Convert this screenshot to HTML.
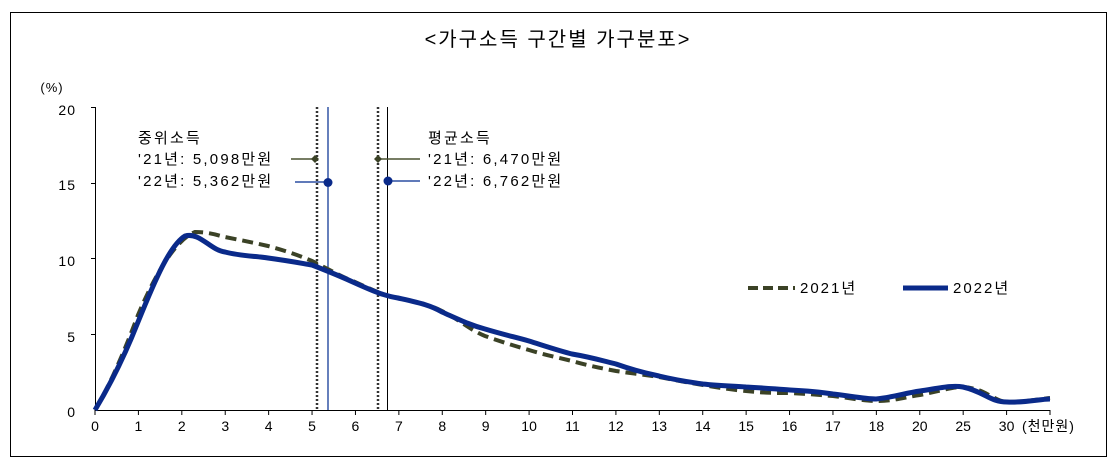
<!DOCTYPE html>
<html><head><meta charset="utf-8"><style>
html,body{margin:0;padding:0;background:#fff;}
svg text{font-family:"Liberation Sans","Noto Sans CJK KR",sans-serif;}
</style></head><body>
<svg width="1116" height="461" viewBox="0 0 1116 461" xmlns="http://www.w3.org/2000/svg">
<rect x="10.5" y="12.5" width="1096" height="444" fill="none" stroke="#000" stroke-width="1"/>
<text x="558" y="46" font-size="20" text-anchor="middle" fill="#000" letter-spacing="2">&lt;가구소득 구간별 가구분포&gt;</text>
<text x="52" y="92" font-size="13" text-anchor="middle" fill="#000" letter-spacing="1">(%)</text>
<g font-size="14" fill="#000" text-anchor="end" letter-spacing="1">
<text x="76" y="115">20</text><text x="76" y="190">15</text><text x="76" y="266">10</text><text x="76" y="342">5</text><text x="76" y="417">0</text>
</g>
<line x1="95.5" y1="107" x2="95.5" y2="410" stroke="#000"/>
<g stroke="#000"><line x1="91" y1="107.5" x2="95" y2="107.5"/><line x1="91" y1="183.5" x2="95" y2="183.5"/><line x1="91" y1="258.5" x2="95" y2="258.5"/><line x1="91" y1="334.5" x2="95" y2="334.5"/></g>
<line x1="95" y1="410.5" x2="1050" y2="410.5" stroke="#000"/>
<g stroke="#000" id="ticks"></g>
<g font-size="14" fill="#000" text-anchor="middle" id="xl"></g>
<text x="1022" y="431" font-size="14" fill="#000" letter-spacing="1">(천만원)</text>
<line x1="317" y1="107" x2="317" y2="410" stroke="#333" stroke-width="2.5" stroke-dasharray="2,2"/>
<line x1="328" y1="107" x2="328" y2="410" stroke="#002b8f" stroke-width="1.2"/>
<line x1="378" y1="107" x2="378" y2="410" stroke="#333" stroke-width="2.5" stroke-dasharray="2,2"/>
<line x1="387.5" y1="107" x2="387.5" y2="410" stroke="#000" stroke-width="1"/>
<g font-size="15" fill="#000" letter-spacing="2.2">
<text x="138" y="143">중위소득</text>
<text x="138" y="164">'21년: 5,098만원</text>
<text x="138" y="186">'22년: 5,362만원</text>
<text x="428" y="143">평균소득</text>
<text x="428" y="164">'21년: 6,470만원</text>
<text x="428" y="186">'22년: 6,762만원</text>
</g>
<line x1="291" y1="159" x2="315" y2="159" stroke="#4a5230" stroke-width="1.5"/>
<path d="M315 155 L319 159 L315 163 L311 159Z" fill="#3b4226"/>
<line x1="295" y1="182" x2="326" y2="182" stroke="#002b8f" stroke-width="1.2"/>
<circle cx="328" cy="182.5" r="4.5" fill="#0a2a8a"/>
<line x1="380" y1="159" x2="420" y2="159" stroke="#4a5230" stroke-width="1.5"/>
<path d="M378 155 L382 159 L378 163 L374 159Z" fill="#3b4226"/>
<line x1="390" y1="181" x2="420" y2="181" stroke="#002b8f" stroke-width="1.2"/>
<circle cx="388" cy="181" r="4.5" fill="#0a2a8a"/>
<line x1="748" y1="288" x2="795" y2="288" stroke="#3b4226" stroke-width="4" stroke-dasharray="10,5"/>
<text x="800" y="293" font-size="15" fill="#000" letter-spacing="2">2021년</text>
<line x1="903" y1="288" x2="948" y2="288" stroke="#0a2a8a" stroke-width="5"/>
<text x="953" y="293" font-size="15" fill="#000" letter-spacing="2">2022년</text>
<path d="M95,410 C110,385 125,350 138,315 C155,275 175,240 195,232 C210,232 220,236 225,237 C240,240 255,243 268,246 C290,252 300,256 312,261 C330,270 340,276 355,282 C375,291 385,296 398,298 C420,303 430,305 442,311 C460,320 470,330 485,336 C505,343 515,346 529,350 C545,355 560,358 572,361 C590,366 600,368 616,371 C630,373 645,375 659,377 C680,381 690,383 703,385 C720,388 735,390 746,391 C765,393 775,393 790,393 C810,394 820,395 833,396 C850,398 865,401 876,401 C895,401 905,397 920,395 C940,391 952,387 963,387 C985,388 995,402 1007,402 C1025,402 1040,399 1050,398" fill="none" stroke="#3b4226" stroke-width="4" stroke-dasharray="11,6"/>
<path d="M95,410 C110,385 125,355 138,322 C155,280 170,245 185,236 C200,232 210,250 225,252 C240,256 255,256 268,258 C290,261 300,263 312,265 C330,272 340,276 355,283 C375,292 385,296 398,298 C420,303 430,305 442,312 C460,320 470,325 485,329 C505,335 515,337 529,341 C545,346 560,351 572,354 C590,357 600,360 616,364 C630,369 645,373 659,376 C680,381 690,382 703,384 C720,386 735,386 746,387 C765,388 775,389 790,390 C810,391 820,392 833,394 C850,396 865,399 876,399 C895,397 905,393 920,391 C940,388 952,385 963,387 C985,392 990,402 1007,402 C1025,403 1040,399 1050,399" fill="none" stroke="#0a2a8a" stroke-width="5"/>
<script>
var labs=["0","1","2","3","4","5","6","7","8","9","10","11","12","13","14","15","16","17","18","20","25","30"];
var t=document.getElementById("ticks"),xl=document.getElementById("xl"),ns="http://www.w3.org/2000/svg";
for(var i=0;i<=22;i++){var x=95+i*955/22;var l=document.createElementNS(ns,"line");l.setAttribute("x1",x);l.setAttribute("x2",x);l.setAttribute("y1",410);l.setAttribute("y2",415);t.appendChild(l);
if(i<22){var s=document.createElementNS(ns,"text");s.setAttribute("x",x);s.setAttribute("y",431);s.textContent=labs[i];xl.appendChild(s);}}
</script>
</svg>
</body></html>
